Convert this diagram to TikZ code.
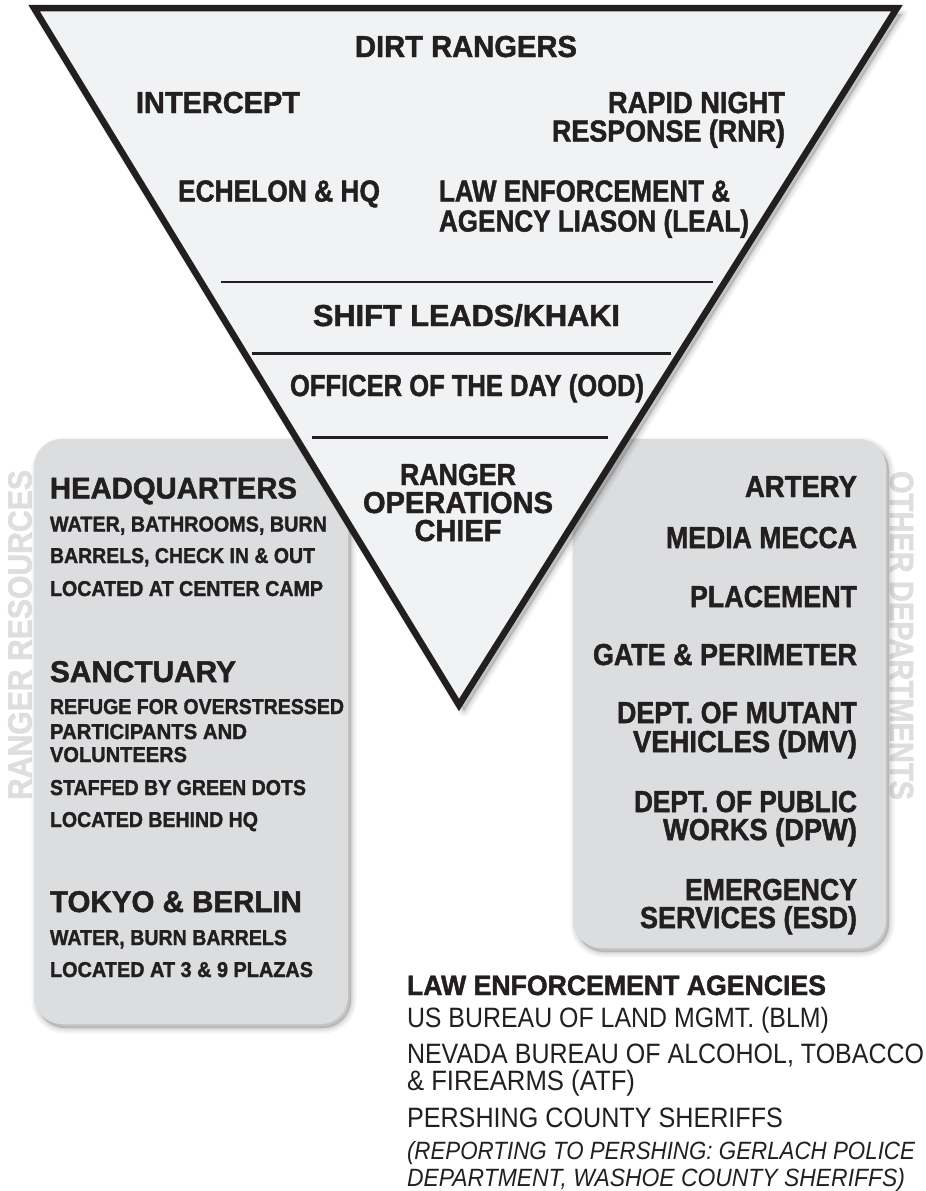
\documentclass[tikz,border=0pt]{standalone}
\usepackage{fontspec}
\setmainfont{Liberation Sans}[BoldFeatures={FakeBold=1.6}]
\usepackage{graphicx}
\definecolor{ink}{HTML}{231F20}
\definecolor{trifill}{HTML}{F1F2F3}
\definecolor{boxfill}{HTML}{DCDDDF}
\definecolor{sidegray}{HTML}{DDDEDF}
\newcommand\fitw[2]{\resizebox{#1pt}{\height}{#2}}
\newcommand\softshadow[1]{%
  \fill[black,opacity=0.16] #1;
  \draw[black,opacity=0.04,line width=11pt,line join=round] #1;
  \draw[black,opacity=0.05,line width=7pt,line join=round] #1;
  \draw[black,opacity=0.06,line width=3pt,line join=round] #1;
}
\tikzset{
  txt/.style={inner sep=0pt, outer sep=0pt, text=ink},
  tri/.style={txt, font=\fontsize{30.3}{30.3}\selectfont\bfseries},
  rbox/.style={txt, font=\fontsize{30.3}{30.3}\selectfont\bfseries},
  lhead/.style={txt, font=\fontsize{30}{30}\selectfont\bfseries},
  lsmall/.style={txt, font=\fontsize{21.5}{21.5}\selectfont\bfseries},
  bhead/.style={txt, font=\fontsize{28}{28}\selectfont\bfseries},
  breg/.style={txt, font=\fontsize{28}{28}\selectfont},
  bit/.style={txt, font=\fontsize{25}{25}\selectfont\itshape},
  side/.style={txt, text=sidegray, font=\fontsize{33.5}{33.5}\selectfont\bfseries},
  sep/.style={ink, line width=2.8pt},
}
\begin{document}
\begin{tikzpicture}[x=1pt,y=-1pt]
\useasboundingbox (0,0) rectangle (926,1191);
\fill[white] (0,0) rectangle (926,1191);

% side labels
\node[side, rotate=90, anchor=base west] (rr) at (31.5,800) {\fitw{330}{RANGER RESOURCES}};
\node[side, rotate=-90, anchor=base west] (od) at (890,471) {\fitw{329}{OTHER DEPARTMENTS}};

% boxes with shadows
\begin{scope}[shift={(3,4)}]
  \softshadow{[rounded corners=28pt] (34,439) rectangle (348,1024)}
  \softshadow{[rounded corners=28pt] (573,439) rectangle (886,948)}
\end{scope}
\fill[boxfill, rounded corners=28pt] (34,439) rectangle (348,1024);
\fill[boxfill, rounded corners=28pt] (573,439) rectangle (886,948);

% triangle
\begin{scope}[shift={(5,6)}]
  \softshadow{(34,8) -- (897,8) -- (459,705) -- cycle}
\end{scope}
\filldraw[fill=trifill, draw=ink, line width=6.5pt, line join=miter] (34,8) -- (897,8) -- (459,705) -- cycle;
\draw[sep] (221,282) -- (713,282);
\draw[sep] (252,353.5) -- (671,353.5);
\draw[sep] (312,437.5) -- (608,437.5);

% triangle text
\node[tri, anchor=base] (dirt) at (466,57) {\fitw{222}{DIRT RANGERS}};
\node[tri, anchor=base west] (intercept) at (136,113) {\fitw{164}{INTERCEPT}};
\node[tri, anchor=base east] (rnr1) at (785,113) {\fitw{177}{RAPID NIGHT}};
\node[tri, anchor=base east] (rnr2) at (785,141.5) {\fitw{233}{RESPONSE (RNR)}};
\node[tri, anchor=base west] (echelon) at (178,201.5) {\fitw{202}{ECHELON \& HQ}};
\node[tri, anchor=base west] (leal1) at (439,201.5) {\fitw{291}{LAW ENFORCEMENT \&}};
\node[tri, anchor=base west] (leal2) at (439,231.5) {\fitw{310}{AGENCY LIASON (LEAL)}};
\node[tri, anchor=base] (shift) at (466.5,326) {\fitw{307}{SHIFT LEADS/KHAKI}};
\node[tri, anchor=base] (ood) at (467,396) {\fitw{354}{OFFICER OF THE DAY (OOD)}};
\node[tri, anchor=base] (roc1) at (458,485) {\fitw{116}{RANGER}};
\node[tri, anchor=base] (roc2) at (458,513) {\fitw{190}{OPERATIONS}};
\node[tri, anchor=base] (roc3) at (458,541) {\fitw{87}{CHIEF}};

% left box text
\node[lhead, anchor=base west] (hq) at (50,498.5) {\fitw{247}{HEADQUARTERS}};
\node[lsmall, anchor=base west] (hq1) at (50,531.5) {\fitw{277}{WATER, BATHROOMS, BURN}};
\node[lsmall, anchor=base west] (hq2) at (50,563) {\fitw{265}{BARRELS, CHECK IN \& OUT}};
\node[lsmall, anchor=base west] (hq3) at (50,596) {\fitw{273}{LOCATED AT CENTER CAMP}};
\node[lhead, anchor=base west] (sanc) at (50,682) {\fitw{186}{SANCTUARY}};
\node[lsmall, anchor=base west] (sanc1) at (50,714) {\fitw{294}{REFUGE FOR OVERSTRESSED}};
\node[lsmall, anchor=base west] (sanc2) at (50,739) {\fitw{197}{PARTICIPANTS AND}};
\node[lsmall, anchor=base west] (sanc3) at (50,762) {\fitw{137}{VOLUNTEERS}};
\node[lsmall, anchor=base west] (sanc4) at (50,795) {\fitw{256}{STAFFED BY GREEN DOTS}};
\node[lsmall, anchor=base west] (sanc5) at (50,827) {\fitw{208}{LOCATED BEHIND HQ}};
\node[lhead, anchor=base west] (tokyo) at (50,912) {\fitw{252}{TOKYO \& BERLIN}};
\node[lsmall, anchor=base west] (tokyo1) at (50,945) {\fitw{237}{WATER, BURN BARRELS}};
\node[lsmall, anchor=base west] (tokyo2) at (50,977) {\fitw{263}{LOCATED AT 3 \& 9 PLAZAS}};

% right box text
\node[rbox, anchor=base east] (artery) at (857,497) {\fitw{112}{ARTERY}};
\node[rbox, anchor=base east] (media) at (857,548) {\fitw{191}{MEDIA MECCA}};
\node[rbox, anchor=base east] (placement) at (857,607) {\fitw{167}{PLACEMENT}};
\node[rbox, anchor=base east] (gate) at (857,665) {\fitw{264}{GATE \& PERIMETER}};
\node[rbox, anchor=base east] (dmv1) at (857,723) {\fitw{240}{DEPT. OF MUTANT}};
\node[rbox, anchor=base east] (dmv2) at (857,752) {\fitw{224}{VEHICLES (DMV)}};
\node[rbox, anchor=base east] (dpw1) at (857,812) {\fitw{223}{DEPT. OF PUBLIC}};
\node[rbox, anchor=base east] (dpw2) at (857,840) {\fitw{194}{WORKS (DPW)}};
\node[rbox, anchor=base east] (esd1) at (857,900) {\fitw{172}{EMERGENCY}};
\node[rbox, anchor=base east] (esd2) at (857,928) {\fitw{217}{SERVICES (ESD)}};

% bottom text
\node[bhead, anchor=base west] (lea) at (407,995) {\fitw{419}{LAW ENFORCEMENT AGENCIES}};
\node[breg, anchor=base west] (blm) at (407,1027) {\fitw{422}{US BUREAU OF LAND MGMT. (BLM)}};
\node[breg, anchor=base west] (atf1) at (407,1063) {\fitw{517}{NEVADA BUREAU OF ALCOHOL, TOBACCO}};
\node[breg, anchor=base west] (atf2) at (407,1090) {\fitw{228}{\& FIREARMS (ATF)}};
\node[breg, anchor=base west] (pcs) at (407,1127) {\fitw{376}{PERSHING COUNTY SHERIFFS}};
\node[bit, anchor=base west] (rep1) at (407,1159) {\fitw{508}{(REPORTING TO PERSHING: GERLACH POLICE}};
\node[bit, anchor=base west] (rep2) at (407,1186) {\fitw{498}{DEPARTMENT, WASHOE COUNTY SHERIFFS)}};
\end{tikzpicture}
\end{document}
